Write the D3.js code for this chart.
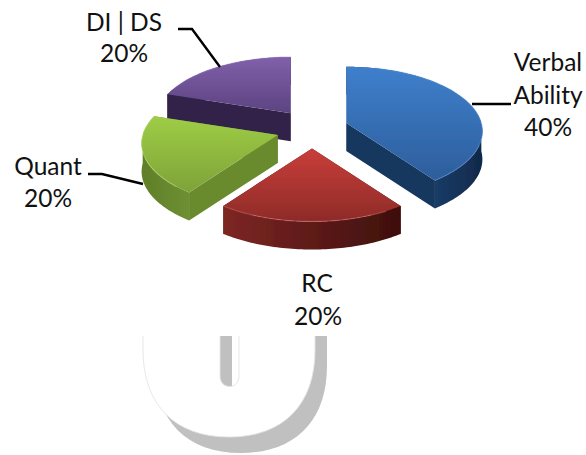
<!DOCTYPE html>
<html>
<head>
<meta charset="utf-8">
<script src="https://cdn.jsdelivr.net/npm/d3@7/dist/d3.min.js"></script>
<style>
  html, body { margin: 0; padding: 0; background: #fff; }
  text { font-family: Lato, "Open Sans", sans-serif; font-size: 24.5px; fill: #111; text-anchor: middle; }
</style>
</head>
<body>
<svg id="chart" width="586" height="455"></svg>
<script>
'use strict';

// slices, clockwise from 12 o'clock
var categories = ['Verbal Ability', 'RC', 'Quant', 'DI | DS'];
var shares = [40, 20, 20, 20];
var percentLabels = ['40%', '20%', '20%', '20%'];

var topColors = [['#3f7fcc', '#2d5e9c'], ['#c93e3a', '#8e2b28'], ['#9ecd46', '#7ea238'], ['#8060aa', '#5c4380']];
var wallColors = [['#1a3c66', '#10294a'], ['#7e2624', '#3e0f0d'], ['#5f7f2a', '#6e8f31'], ['#35254a', '#35254a']];
var faceColors = ['#17375e', '#4a1513', '#6a8a2f', '#33234a'];
var rimColors = ['#5b93d6', '#e0716d', '#bde070', '#9a7cc0'];

// label lines and leader lines, in page pixels
var labelLines = [
  [{t: 'Verbal', x: 548, y: 71}, {t: 'Ability', x: 548, y: 104}, {t: percentLabels[0], x: 548, y: 136}],
  [{t: 'RC', x: 317, y: 292}, {t: percentLabels[1], x: 318, y: 325}],
  [{t: 'Quant', x: 48, y: 175}, {t: percentLabels[2], x: 48, y: 207}],
  [{t: 'DI | DS', x: 124, y: 31}, {t: percentLabels[3], x: 124, y: 62}]
];
var leaders = [
  [[472, 104], [511, 104]],
  [],
  [[88, 174], [102, 174], [143, 184]],
  [[178, 29], [192, 29], [220, 67]]
];

var cx = 312, cy = 129;          // pie centre
var rx = 135, ry = 63.5;         // ellipse radii of the top face
var persp = 0.13;                // front of the pie is nearer the camera
var depth = 28;                  // wall height
var explodeX = 36, explodeY = 19.5;

var svg = d3.select('#chart');
var defs = svg.append('defs');

// project a pie angle (0 = up, clockwise) and a radius fraction to the page, relative to the apex
function project(a, k) {
    var s = 1 / (1 + persp * Math.cos(a));
    return [k * rx * Math.sin(a) * s, -k * ry * Math.cos(a) * s];
}

function arcPoints(a0, a1) {
    var n = Math.max(2, Math.ceil((a1 - a0) / 0.02));
    return d3.range(n + 1).map(function (i) {
        return project(a0 + (a1 - a0) * i / n, 1);
    });
}

function shifted(pts) {
    return pts.map(function (p) { return [p[0], p[1] + depth]; });
}

function gradient(id, colors, horizontal) {
    var g = defs.append('linearGradient').attr('id', id)
        .attr('x1', 0).attr('y1', 0)
        .attr('x2', horizontal ? 1 : 0).attr('y2', horizontal ? 0 : 1);
    g.append('stop').attr('offset', 0).attr('stop-color', colors[0]);
    g.append('stop').attr('offset', 1).attr('stop-color', colors[1]);
}

defs.append('filter').attr('id', 'soft').append('feGaussianBlur').attr('stdDeviation', 0.45);

// watermark glyph under the chart: white U on a grey offset copy, cut off at the top
defs.append('clipPath').attr('id', 'wmClip').append('rect')
    .attr('x', 120).attr('y', 336).attr('width', 240).attr('height', 119);

function uShape() {
    var p = d3.path();
    p.moveTo(143, 320);
    p.lineTo(143, 350);
    p.bezierCurveTo(143, 405, 175, 437, 229, 437);
    p.bezierCurveTo(283, 437, 315, 405, 315, 350);
    p.lineTo(315, 320);
    p.lineTo(239, 320);
    p.lineTo(239, 376);
    p.bezierCurveTo(239, 390, 220, 390, 220, 376);
    p.lineTo(220, 320);
    p.closePath();
    return p.toString();
}

var wm = svg.append('g').attr('clip-path', 'url(#wmClip)');
wm.append('path').attr('d', uShape()).attr('fill', '#c0c0c0').attr('transform', 'translate(12,16)');
wm.append('path').attr('d', uShape()).attr('fill', '#fff').attr('stroke', '#e4e4e4').attr('stroke-width', 0.9);

var line = d3.line();
var pie = d3.pie().sort(null).value(function (d) { return d; });
var arcs = pie(shares);

// paint order: back slices first
var order = [3, 2, 0, 1];

order.forEach(function (i) {
    var d = arcs[i];
    var mid = (d.startAngle + d.endAngle) / 2;
    var g = svg.append('g')
        .attr('transform', 'translate(' + (cx + explodeX * Math.sin(mid)) + ',' + (cy - explodeY * Math.cos(mid)) + ')')
        .attr('filter', 'url(#soft)');

    gradient('top' + i, topColors[i], false);
    gradient('wall' + i, wallColors[i], true);

    var a0 = d.startAngle, a1 = d.endAngle;
    var apex = [0, 0];
    var whole = arcPoints(a0, a1);
    var front = whole.filter(function (p) { return p[1] >= 0; });
    var back = whole.filter(function (p) { return p[1] < 0; });

    function wall(pts, fill) {
        if (pts.length < 2) return;
        g.append('path')
            .attr('d', line(pts.concat(shifted(pts).reverse())) + 'Z')
            .attr('fill', fill);
    }

    // back part of the outer wall, then the two cut faces, then the front wall
    wall(back, faceColors[i]);
    [whole[0], whole[whole.length - 1]].forEach(function (p) {
        wall([apex, p], faceColors[i]);
    });
    wall(front, 'url(#wall' + i + ')');

    // top face
    g.append('path')
        .attr('d', line([apex].concat(whole)) + 'Z')
        .attr('fill', 'url(#top' + i + ')');

    // light rim along the outer edge
    g.append('path')
        .attr('d', line(whole.slice(Math.floor(whole.length * 0.1))))
        .attr('fill', 'none')
        .attr('stroke', rimColors[i])
        .attr('stroke-width', 1.2)
        .attr('opacity', 0.45);
});

// leader lines
leaders.forEach(function (pts) {
    if (!pts.length) return;
    svg.append('path')
        .attr('d', line(pts))
        .attr('fill', 'none')
        .attr('stroke', '#000')
        .attr('stroke-width', 2.4);
});

// labels
labelLines.forEach(function (lines) {
    lines.forEach(function (l) {
        svg.append('text').attr('x', l.x).attr('y', l.y).text(l.t);
    });
});
</script>
</body>
</html>
